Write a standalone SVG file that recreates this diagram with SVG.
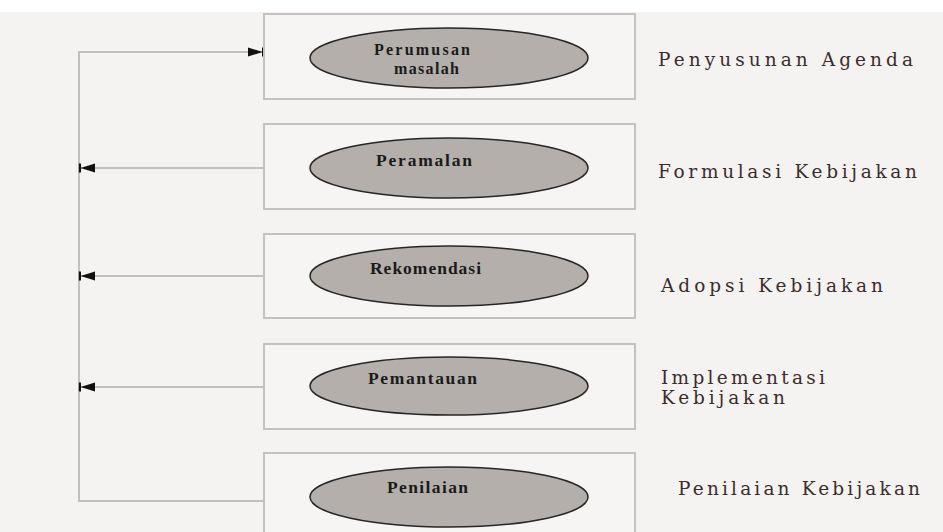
<svg xmlns="http://www.w3.org/2000/svg" width="943" height="532" viewBox="0 0 943 532">
  <defs>
    <style>
      .box { fill: #f6f5f4; stroke: #c4c1be; stroke-width: 2; }
      .oval { fill: #b4afaa; stroke: #262626; stroke-width: 1.5; }
      .nlabel { font-family: "Liberation Serif", "Times New Roman", serif; font-weight: bold; font-size: 17.5px; fill: #1a1a1a; }
      .nlabel.two { font-size: 16px; }
      .side { font-family: "DejaVu Serif", "Liberation Serif", serif; font-size: 18.5px; fill: #3b2c2c; }
      .wire { fill: none; stroke: #c2bfbc; stroke-width: 2; }
    </style>
    <marker id="head" viewBox="0 0 18 12" refX="17" refY="6" markerWidth="18" markerHeight="12" markerUnits="userSpaceOnUse" orient="auto">
      <path d="M1,1.5 L15.5,6 L1,10.5 Z" fill="#111"/>
      <rect x="15" y="1.5" width="2.2" height="9" fill="#111"/>
    </marker>
  </defs>

  <rect width="943" height="532" fill="#f4f3f2"/>
  <rect width="943" height="12" fill="#ffffff"/>

  <!-- feedback loop: bottom step back up to the first step, branches to each step -->
  <g id="connectors">
    <path class="wire" d="M264,501 H79 V52 H264" marker-end="url(#head)"/>
    <path class="wire" d="M264,168 H79" marker-end="url(#head)"/>
    <path class="wire" d="M264,276 H79" marker-end="url(#head)"/>
    <path class="wire" d="M264,387 H79" marker-end="url(#head)"/>
  </g>

  <g id="perumusan">
    <rect class="box" x="264" y="14" width="371" height="85"/>
    <ellipse class="oval" cx="449" cy="58" rx="139" ry="30"/>
    <text class="nlabel two" x="374" y="55" textLength="96" lengthAdjust="spacing">Perumusan</text>
    <text class="nlabel two" x="394" y="74" textLength="65" lengthAdjust="spacing">masalah</text>
  </g>

  <g id="peramalan">
    <rect class="box" x="264" y="124" width="371" height="85"/>
    <ellipse class="oval" cx="449" cy="168" rx="139" ry="30"/>
    <text class="nlabel" x="376" y="166" textLength="96" lengthAdjust="spacing">Peramalan</text>
  </g>

  <g id="rekomendasi">
    <rect class="box" x="264" y="234" width="371" height="84"/>
    <ellipse class="oval" cx="449" cy="276" rx="139" ry="30"/>
    <text class="nlabel" x="370" y="274" textLength="111" lengthAdjust="spacing">Rekomendasi</text>
  </g>

  <g id="pemantauan">
    <rect class="box" x="264" y="344" width="371" height="85"/>
    <ellipse class="oval" cx="449" cy="386" rx="139" ry="29"/>
    <text class="nlabel" x="368" y="384" textLength="109" lengthAdjust="spacing">Pemantauan</text>
  </g>

  <g id="penilaian">
    <rect class="box" x="264" y="453" width="371" height="95"/>
    <ellipse class="oval" cx="449" cy="497" rx="139" ry="30"/>
    <text class="nlabel" x="387" y="493" textLength="81" lengthAdjust="spacing">Penilaian</text>
  </g>

  <g id="stage-labels">
    <text class="side" x="658" y="66" textLength="255" lengthAdjust="spacing">Penyusunan Agenda</text>
    <text class="side" x="658" y="178" textLength="259" lengthAdjust="spacing">Formulasi Kebijakan</text>
    <text class="side" x="661" y="292" textLength="222" lengthAdjust="spacing">Adopsi Kebijakan</text>
    <text class="side" x="661" y="384" textLength="164" lengthAdjust="spacing">Implementasi</text>
    <text class="side" x="661" y="404" textLength="124" lengthAdjust="spacing">Kebijakan</text>
    <text class="side" x="678" y="495" textLength="242" lengthAdjust="spacing">Penilaian Kebijakan</text>
  </g>
</svg>
